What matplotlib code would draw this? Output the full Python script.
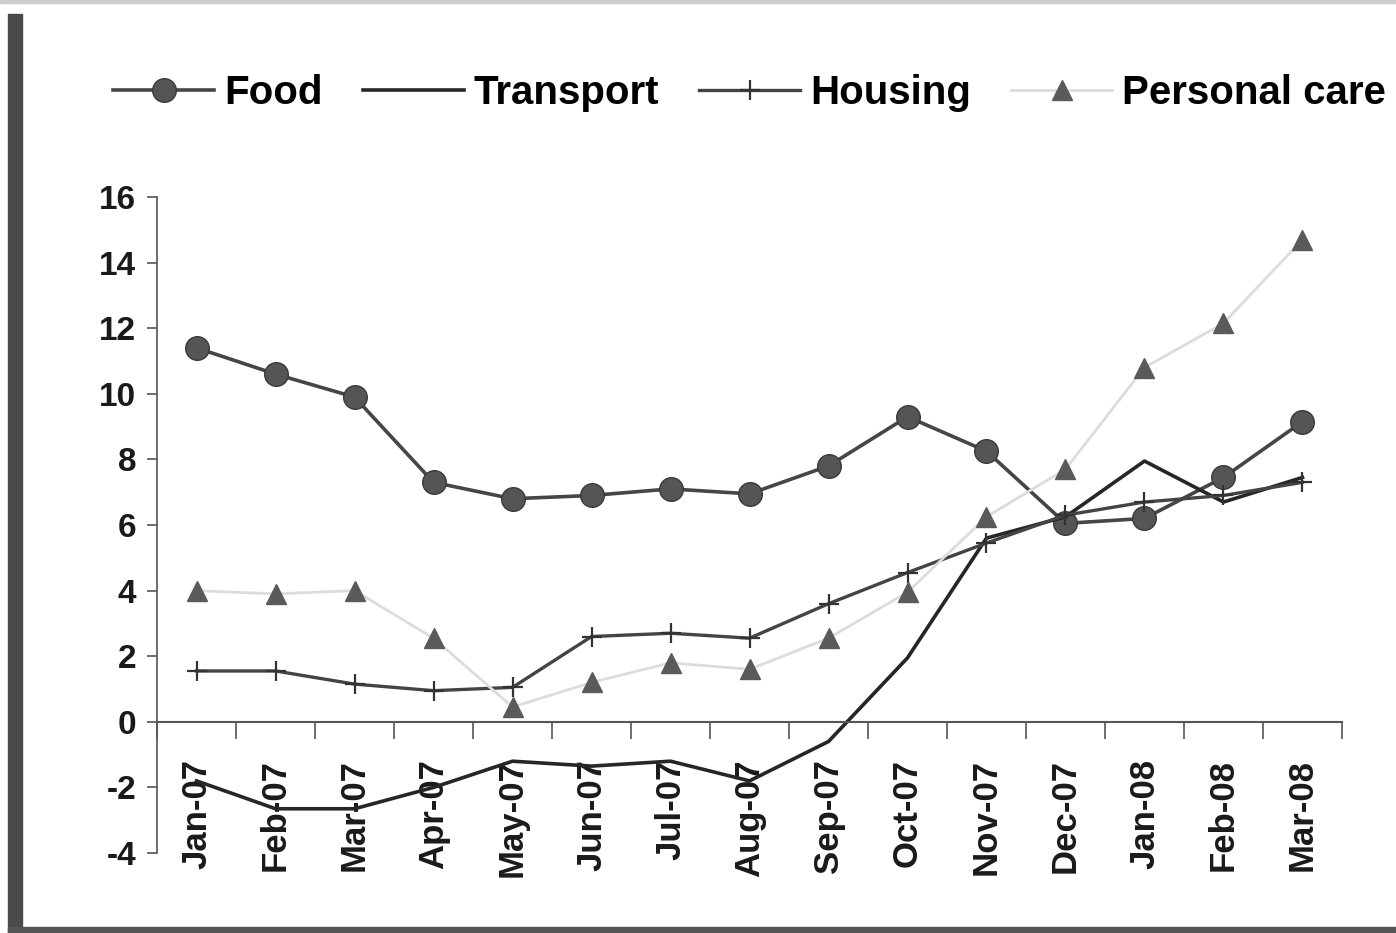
import matplotlib
matplotlib.use("Agg")
import matplotlib.pyplot as plt
from matplotlib.patches import Rectangle
import numpy as np

plt.rcParams['font.family'] = ['Liberation Sans', 'DejaVu Sans']

months = ["Jan-07", "Feb-07", "Mar-07", "Apr-07", "May-07", "Jun-07", "Jul-07", "Aug-07",
          "Sep-07", "Oct-07", "Nov-07", "Dec-07", "Jan-08", "Feb-08", "Mar-08"]
food = [11.4, 10.6, 9.9, 7.3, 6.8, 6.9, 7.1, 6.95, 7.8, 9.3, 8.25, 6.05, 6.2, 7.45, 9.15]
transport = [-1.8, -2.65, -2.65, -2.0, -1.2, -1.35, -1.2, -1.8, -0.6, 1.95, 5.6, 6.25, 7.95, 6.7, 7.45]
housing = [1.55, 1.55, 1.15, 0.95, 1.05, 2.6, 2.7, 2.55, 3.6, 4.55, 5.45, 6.3, 6.7, 6.9, 7.3]
personal_care = [4.0, 3.9, 4.0, 2.55, 0.45, 1.2, 1.8, 1.6, 2.55, 3.95, 6.25, 7.7, 10.8, 12.15, 14.7]
y_ticks = [-4, -2, 0, 2, 4, 6, 8, 10, 12, 14, 16]

fig = plt.figure(figsize=(13.96, 9.33), dpi=100)
ax = fig.add_axes([0.1125, 0.0857, 0.8488, 0.7032])

x = np.arange(len(months))
l1, = ax.plot(x, food, color="#464646", lw=2.6, marker="o", ms=17, mfc="#555555", mec="#3a3a3a", label="Food")
l2, = ax.plot(x, transport, color="#262626", lw=2.6, label="Transport")
l3, = ax.plot(x, housing, color="#444444", lw=2.4, marker="+", ms=15, mew=1.6, mec="#333333", label="Housing")
l4, = ax.plot(x, personal_care, color="#dcdcdc", lw=2, marker="^", ms=15, mfc="#5a5a5a", mec="#5a5a5a",
              label="Personal care")

ax.set_xlim(-0.5, len(months) - 0.5)
ax.set_ylim(-4, 16)

for s in ["top", "right"]:
    ax.spines[s].set_visible(False)
ax.spines["bottom"].set_position(("data", 0))
ax.spines["bottom"].set_color("#555555")
ax.spines["bottom"].set_linewidth(1.5)
ax.spines["left"].set_color("#555555")
ax.spines["left"].set_linewidth(1.2)

ax.set_yticks(y_ticks)
ax.set_yticklabels([str(v) for v in y_ticks], fontsize=24, fontweight="bold", color="#1a1a1a")
ax.tick_params(axis="y", direction="out", length=7, width=1.2, color="#555555", pad=8)

# category boundaries get tick marks, centres get the labels
ax.set_xticks(np.arange(-0.5, len(months), 1.0))
ax.set_xticklabels([])
ax.tick_params(axis="x", which="major", direction="out", length=12, width=1.2, color="#555555")
ax.set_xticks(x, minor=True)
ax.set_xticklabels(months, minor=True, rotation=90, fontsize=25, fontweight="bold", color="#1a1a1a")
ax.tick_params(axis="x", which="minor", length=0, pad=27)

fig.legend(handles=[l1, l2, l3, l4], loc="center", bbox_to_anchor=(0.537, 0.9), ncol=4, frameon=False,
           prop={"size": 29, "weight": "bold"}, handlelength=2.5, columnspacing=1.0, handletextpad=0.25)

# frame bits of the scanned page
fig.patches.append(Rectangle((0.006, 0.0), 0.01, 0.985, transform=fig.transFigure, color="#4a4a4a"))
fig.patches.append(Rectangle((0.006, 0.0), 0.994, 0.006, transform=fig.transFigure, color="#555555"))
fig.patches.append(Rectangle((0.0, 0.997), 1.0, 0.003, transform=fig.transFigure, color="#cccccc"))

fig.savefig("out.png", dpi=100)
